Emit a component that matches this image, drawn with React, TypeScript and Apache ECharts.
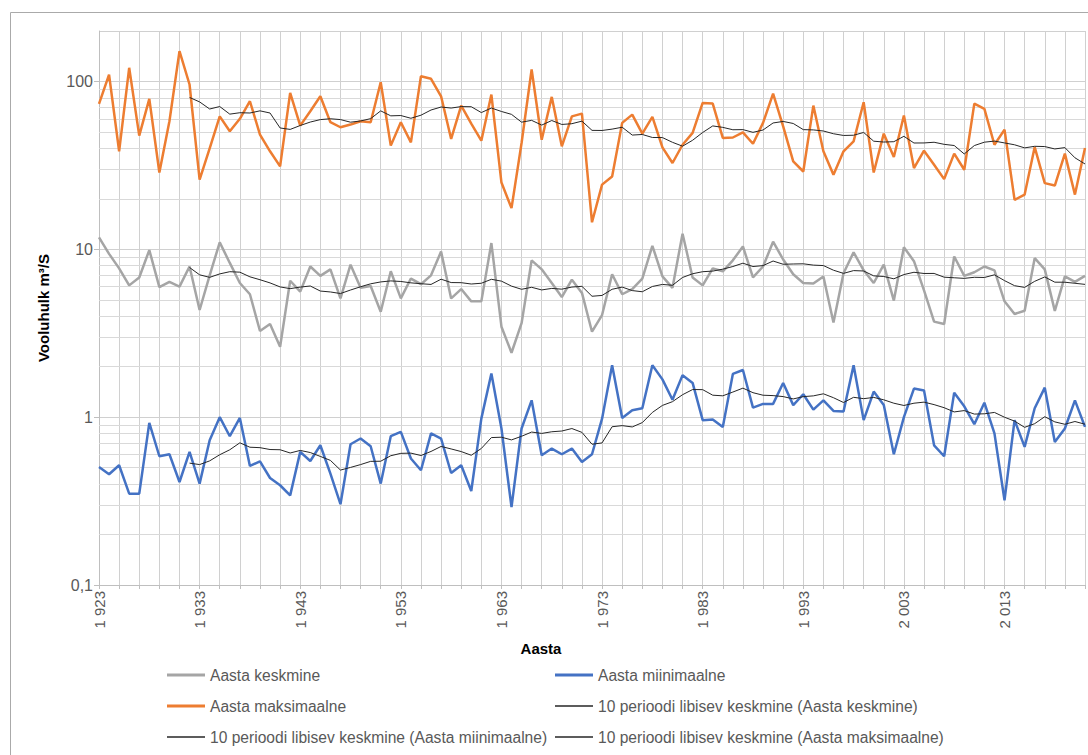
import React, { useEffect, useRef } from "react";
import * as echarts from "echarts";

const years: string[] = [
  "1923","1924","1925","1926","1927","1928","1929","1930","1931","1932",
  "1933","1934","1935","1936","1937","1938","1939","1940","1941","1942",
  "1943","1944","1945","1946","1947","1948","1949","1950","1951","1952",
  "1953","1954","1955","1956","1957","1958","1959","1960","1961","1962",
  "1963","1964","1965","1966","1967","1968","1969","1970","1971","1972",
  "1973","1974","1975","1976","1977","1978","1979","1980","1981","1982",
  "1983","1984","1985","1986","1987","1988","1989","1990","1991","1992",
  "1993","1994","1995","1996","1997","1998","1999","2000","2001","2002",
  "2003","2004","2005","2006","2007","2008","2009","2010","2011","2012",
  "2013","2014","2015","2016","2017","2018","2019","2020","2021",
];

const meanFlow: number[] = [
  11.8, 9.4, 7.7, 6.1, 6.8, 9.9, 5.95, 6.4, 6.0, 7.9,
  4.35, 7.0, 11.0, 8.3, 6.3, 5.4, 3.26, 3.59, 2.63, 6.5,
  5.6, 7.9, 6.95, 7.6, 5.1, 8.1, 5.9, 6.05, 4.25, 7.4,
  5.1, 6.7, 6.2, 7.0, 9.7, 5.1, 5.8, 4.9, 4.9, 10.9,
  3.46, 2.42, 3.63, 8.6, 7.6, 6.3, 5.2, 6.6, 5.5, 3.23,
  4.06, 7.1, 5.4, 5.8, 6.7, 10.5, 6.9, 5.9, 12.4, 6.8,
  6.1, 7.7, 7.4, 8.6, 10.4, 6.8, 7.9, 11.1, 8.7, 7.1,
  6.3, 6.25, 6.9, 3.66, 7.2, 9.6, 7.5, 6.3, 8.1, 4.95,
  10.3, 8.5, 5.7, 3.71, 3.59, 9.06, 6.95, 7.3, 7.9, 7.5,
  4.9, 4.12, 4.31, 8.86, 7.6, 4.3, 6.9, 6.4, 6.95,
];

const minFlow: number[] = [
  0.505, 0.457, 0.517, 0.35, 0.35, 0.925, 0.585, 0.601, 0.411, 0.621,
  0.402, 0.729, 1.0, 0.77, 0.99, 0.512, 0.546, 0.434, 0.393, 0.342,
  0.621, 0.548, 0.68, 0.461, 0.303, 0.69, 0.746, 0.671, 0.402, 0.77,
  0.817, 0.567, 0.483, 0.8, 0.746, 0.465, 0.517, 0.363, 0.98, 1.82,
  0.856, 0.291, 0.856, 1.26, 0.593, 0.65, 0.601, 0.65, 0.541, 0.601,
  0.98, 2.04, 0.99, 1.1, 1.13, 2.04, 1.68, 1.27, 1.78, 1.6,
  0.96, 0.97, 0.875, 1.81, 1.91, 1.14, 1.2, 1.2, 1.6, 1.18,
  1.37, 1.11, 1.26, 1.09, 1.08, 2.04, 0.96, 1.42, 1.18, 0.601,
  1.0, 1.48, 1.44, 0.68, 0.585, 1.4, 1.16, 0.908, 1.22, 0.8,
  0.32, 0.96, 0.665, 1.13, 1.5, 0.712, 0.856, 1.26, 0.875,
];

const maxFlow: number[] = [
  73.6, 110, 38.4, 120.7, 47.6, 78.8, 28.7, 58, 151.7, 96,
  26, 40, 62, 50.5, 60, 76.3, 48.3, 38.4, 31.2, 85.6,
  54.6, 66.5, 81.7, 57.2, 53.4, 55.4, 58, 57.2, 99, 41.5,
  57.2, 43.4, 107.6, 103.8, 81.7, 45.5, 71.9, 56.1, 44.4, 83.6,
  25, 17.6, 43, 118, 45, 81, 41.1, 62, 64.4, 14.5,
  24.3, 27.2, 56.7, 63.5, 48.9, 61.5, 40.5, 32.7, 42, 49.4,
  74.6, 73.9, 46.1, 46.4, 49.8, 42.6, 56.7, 84.8, 54, 33.4,
  29.1, 71.9, 38.4, 27.8, 38.4, 44, 75.3, 28.7, 48.9, 35.5,
  62.7, 30.5, 38.7, 31.9, 26.2, 37.2, 29.8, 73.9, 68.7, 42,
  51.7, 19.7, 21.2, 40.7, 24.8, 24, 37.2, 21.2, 40.2,
];

const minorGridValues: number[] = [
  0.2, 0.3, 0.4, 0.5, 0.6, 0.7, 0.8, 0.9,
  2, 3, 4, 5, 6, 7, 8, 9,
  20, 30, 40, 50, 60, 70, 80, 90,
];

const seriesNames = {
  mean: "Aasta keskmine",
  min: "Aasta miinimaalne",
  max: "Aasta maksimaalne",
  maMean: "10 perioodi libisev keskmine (Aasta keskmine)",
  maMin: "10 perioodi libisev keskmine (Aasta miinimaalne)",
  maMax: "10 perioodi libisev keskmine (Aasta maksimaalne)",
};

// Excel-style 10-period moving average trendline (derived from the series itself)
function movingAverage(values: number[], period: number): (number | null)[] {
  return values.map((_, i) => {
    if (i < period - 1) return null;
    let s = 0;
    for (let k = i - period + 1; k <= i; k++) s += values[k];
    return s / period;
  });
}

const FONT = "Liberation Sans";
const TXT = "#595959";

export default function App() {
  const ref = useRef<HTMLDivElement>(null);

  useEffect(() => {
    if (!ref.current) return;
    const chart = echarts.init(ref.current, undefined, { renderer: "svg" });

    const lineSeries = (name: string, data: (number | null)[], color: string, width: number, z: number) => ({
      name,
      type: "line",
      data,
      showSymbol: false,
      symbol: "none",
      connectNulls: false,
      lineStyle: { color, width },
      itemStyle: { color },
      z,
    });

    const legendPos = [
      { name: seriesNames.mean, left: 167, top: 667, h: 3 },
      { name: seriesNames.min, left: 555, top: 667, h: 3 },
      { name: seriesNames.max, left: 167, top: 698, h: 3 },
      { name: seriesNames.maMean, left: 555, top: 698, h: 1.5 },
      { name: seriesNames.maMin, left: 167, top: 729, h: 1.5 },
      { name: seriesNames.maMax, left: 555, top: 729, h: 1.5 },
    ];

    const option: any = {
      animation: false,
      textStyle: { fontFamily: FONT },
      graphic: [
        {
          type: "rect",
          shape: { x: 10.5, y: 12.5, width: 1200, height: 1000 },
          style: { fill: "none", stroke: "#aaaaaa", lineWidth: 1 },
          silent: true,
        },
        {
          type: "text",
          x: 541,
          y: 648,
          style: {
            text: "Aasta",
            fontFamily: FONT,
            fontSize: 15,
            fontWeight: "bold",
            fill: "#000000",
            align: "center",
            verticalAlign: "middle",
          },
        },
      ],
      grid: { left: 99, top: 31, right: 3, bottom: 170, containLabel: false },
      legend: legendPos.map((l) => ({
        data: [{ name: l.name, icon: "rect" }],
        left: l.left,
        top: l.top,
        padding: 0,
        itemWidth: 38,
        itemHeight: l.h,
        itemGap: 6,
        selectedMode: false,
        textStyle: { fontFamily: FONT, fontSize: 15.6, color: TXT, padding: [0, 0, 0, 0] },
      })),
      xAxis: {
        type: "category",
        data: years,
        boundaryGap: false,
        axisLine: { lineStyle: { color: "#bfbfbf" } },
        axisTick: { show: true, interval: 1, length: 4, lineStyle: { color: "#bfbfbf" } },
        axisLabel: {
          interval: 9,
          rotate: 90,
          margin: 6,
          fontFamily: FONT,
          fontSize: 15,
          color: TXT,
          formatter: (v: string) => v.slice(0, 1) + " " + v.slice(1),
        },
        splitLine: { show: true, interval: 1, lineStyle: { color: "#d0d0d0", width: 1 } },
      },
      yAxis: {
        type: "log",
        logBase: 10,
        min: 0.1,
        max: 200,
        name: "Vooluhulk m³/S",
        nameLocation: "middle",
        nameGap: 48,
        nameTextStyle: { fontFamily: FONT, fontSize: 15, fontWeight: "bold", color: "#000000" },
        axisLine: { show: true, lineStyle: { color: "#bfbfbf" } },
        axisTick: { show: true, length: 5, lineStyle: { color: "#bfbfbf" } },
        axisLabel: {
          fontFamily: FONT,
          fontSize: 16,
          color: TXT,
          margin: 6,
          showMaxLabel: false,
          formatter: (v: number) => {
            const lg = Math.log10(v);
            const r = Math.round(lg);
            if (Math.abs(lg - r) > 1e-6 || r > 2) return "";
            return r < 0 ? "0,1" : String(Math.round(Math.pow(10, r)));
          },
        },
        splitLine: { show: true, lineStyle: { color: "#d0d0d0", width: 1 } },
      },
      series: [
        {
          name: "__grid",
          type: "line",
          data: years.map(() => null),
          symbol: "none",
          silent: true,
          z: 1,
          markLine: {
            silent: true,
            symbol: ["none", "none"],
            z: 1,
            label: { show: false },
            lineStyle: { color: "#d9d9d9", width: 1, type: "solid" },
            emphasis: { disabled: true },
            data: minorGridValues.map((v) => ({ yAxis: v })),
          },
        },
        lineSeries(seriesNames.mean, meanFlow, "#A5A5A5", 2.5, 3),
        lineSeries(seriesNames.min, minFlow, "#4472C4", 2.5, 3),
        lineSeries(seriesNames.max, maxFlow, "#ED7D31", 2.5, 3),
        lineSeries(seriesNames.maMean, movingAverage(meanFlow, 10), "#262626", 1, 4),
        lineSeries(seriesNames.maMin, movingAverage(minFlow, 10), "#262626", 1, 4),
        lineSeries(seriesNames.maMax, movingAverage(maxFlow, 10), "#262626", 1, 4),
      ],
    };

    chart.setOption(option);
    return () => chart.dispose();
  }, []);

  return (
    <div
      ref={ref}
      style={{ position: "fixed", left: 0, top: 0, width: 1088, height: 755, background: "#ffffff" }}
    />
  );
}
